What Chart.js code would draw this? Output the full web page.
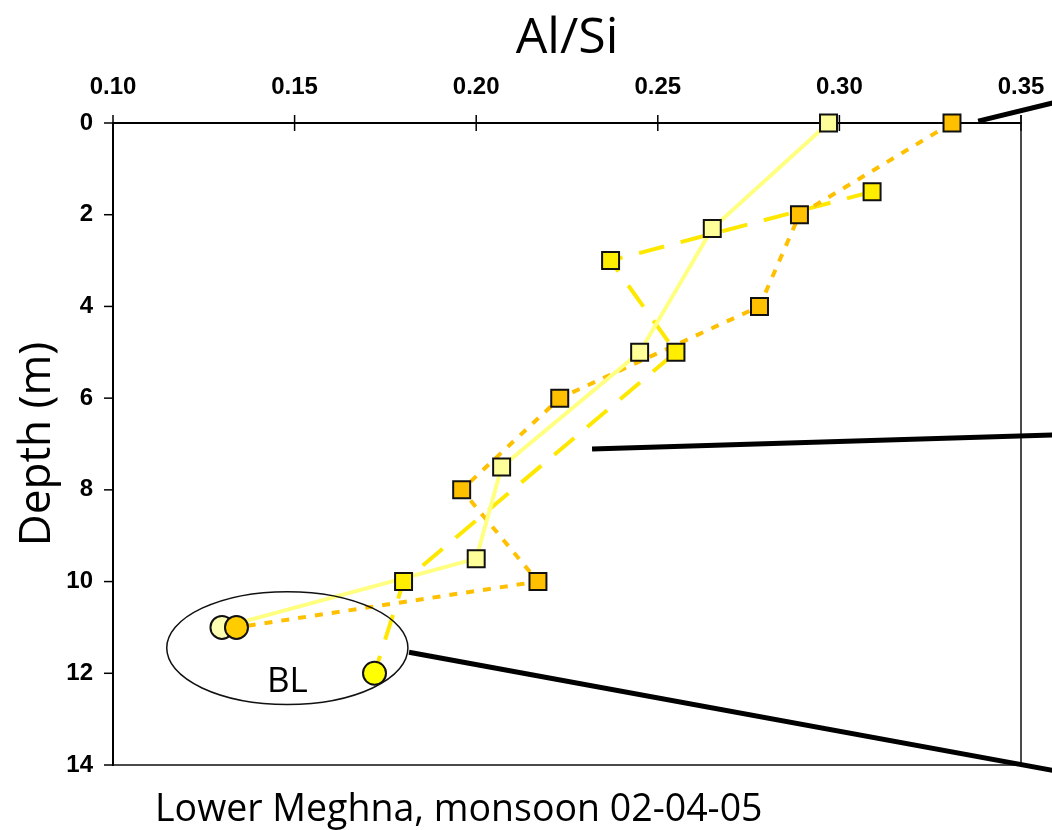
<!DOCTYPE html>
<html>
<head>
<meta charset="utf-8">
<script src="https://cdn.jsdelivr.net/npm/chart.js@4.4.1/dist/chart.umd.min.js"></script>
<style>
  html, body { margin: 0; padding: 0; background: #fff; }
  #wrap { width: 1052px; height: 830px; }
</style>
</head>
<body>
<div id="wrap"><canvas id="chart" width="1052" height="830"></canvas></div>
<script>
// Al/Si against depth, three profiles, last point of each = bottom layer (BL)
const lightAlSi = [0.297, 0.265, 0.245, 0.207, 0.200, 0.130];
const lightDepth = [0, 2.3, 5, 7.5, 9.5, 11];

const orangeAlSi = [0.331, 0.289, 0.278, 0.223, 0.196, 0.217, 0.134];
const orangeDepth = [0, 2, 4, 6, 8, 10, 11];

const yellowAlSi = [0.309, 0.237, 0.255, 0.180, 0.172];
const yellowDepth = [1.5, 3, 5, 10, 12];

const xTicks = [0.10, 0.15, 0.20, 0.25, 0.30, 0.35];
const yTicks = [0, 2, 4, 6, 8, 10, 12, 14];

const caption = "Lower Meghna, monsoon 02-04-05";

function toPoints(xs, ys) {
  return xs.map((x, i) => ({ x: x, y: ys[i] }));
}
// squares, except the bottom-layer sample which is a circle
function markerStyles(n) {
  return Array.from({ length: n }, (_, i) => (i === n - 1 ? "circle" : "rect"));
}
function markerFill(n, square, circle) {
  return Array.from({ length: n }, (_, i) => (i === n - 1 ? circle : square));
}

const series = [
  { xs: lightAlSi, ys: lightDepth, line: "#FFFF80", width: 4, dash: [], sq: "#FFFF99", ci: "#FFFFB3" },
  { xs: orangeAlSi, ys: orangeDepth, line: "#FFC000", width: 4, dash: [8, 9], sq: "#FFC000", ci: "#FFCC00" },
  { xs: yellowAlSi, ys: yellowDepth, line: "#FFE800", width: 4, dash: [26, 17], sq: "#FFEE00", ci: "#FFFF00" },
];

const datasets = [];
series.forEach((s) => {
  // connecting line, drawn under all markers
  datasets.push({
    data: toPoints(s.xs, s.ys),
    showLine: true,
    borderColor: s.line,
    borderWidth: s.width,
    borderDash: s.dash,
    pointRadius: 0,
    order: 2,
    clip: false,
  });
});
series.slice().reverse().forEach((s) => {
  datasets.push({
    data: toPoints(s.xs, s.ys),
    showLine: false,
    pointStyle: markerStyles(s.xs.length),
    pointRadius: s.xs.map((_, i) => (i === s.xs.length - 1 ? 11.5 : 12)),
    pointBackgroundColor: markerFill(s.xs.length, s.sq, s.ci),
    pointBorderColor: "#111",
    pointBorderWidth: 2,
    order: 1,
    clip: false,
  });
});

const decorations = {
  id: "decorations",
  afterDatasetsDraw: function (chart, args, opts) {
    const { ctx, chartArea, scales } = chart;
    const x = scales.x, y = scales.y;
    ctx.save();

    // tick marks: crossing on top axis, outward on left axis
    ctx.strokeStyle = "#000";
    ctx.lineWidth = 1.5;
    x.ticks.forEach((t) => {
      const px = x.getPixelForValue(t.value);
      ctx.beginPath();
      ctx.moveTo(px, chartArea.top - 8);
      ctx.lineTo(px, chartArea.top + 8);
      ctx.stroke();
    });
    y.ticks.forEach((t) => {
      const py = y.getPixelForValue(t.value);
      ctx.beginPath();
      ctx.moveTo(chartArea.left - 9, py);
      ctx.lineTo(chartArea.left, py);
      ctx.stroke();
    });

    // right and bottom frame
    ctx.lineWidth = 1.5;
    ctx.strokeStyle = "#111";
    ctx.beginPath();
    ctx.moveTo(chartArea.right, chartArea.top - 8);
    ctx.lineTo(chartArea.right, chartArea.bottom);
    ctx.lineTo(chartArea.left, chartArea.bottom);
    ctx.stroke();

    // bottom-layer ellipse with label
    const e = opts.ellipse;
    const cx = x.getPixelForValue(e.x), cy = y.getPixelForValue(e.y);
    const rx = Math.abs(x.getPixelForValue(e.x + e.rx) - cx);
    const ry = Math.abs(y.getPixelForValue(e.y + e.ry) - cy);
    ctx.lineWidth = 1.5;
    ctx.beginPath();
    ctx.ellipse(cx, cy, rx, ry, 0, 0, Math.PI * 2);
    ctx.stroke();

    ctx.fillStyle = "#000";
    ctx.font = "35px 'Open Sans', sans-serif";
    ctx.textAlign = "center";
    ctx.textBaseline = "alphabetic";
    ctx.fillText(e.label, cx, y.getPixelForValue(e.labelY));

    // leader lines toward the next panel
    ctx.lineWidth = 5;
    ctx.strokeStyle = "#000";
    opts.leaders.forEach((l) => {
      ctx.beginPath();
      ctx.moveTo(x.getPixelForValue(l[0][0]), y.getPixelForValue(l[0][1]));
      ctx.lineTo(x.getPixelForValue(l[1][0]), y.getPixelForValue(l[1][1]));
      ctx.stroke();
    });

    // caption
    ctx.font = "37.5px 'Open Sans', sans-serif";
    ctx.textAlign = "left";
    ctx.fillText(caption, 155, 821);
    ctx.restore();
  },
};

new Chart(document.getElementById("chart"), {
  type: "scatter",
  data: { datasets: datasets },
  options: {
    responsive: false,
    animation: false,
    layout: { padding: { left: 0, top: 0, right: 31, bottom: 65 } },
    plugins: {
      legend: { display: false },
      tooltip: { enabled: false },
      decorations: {
        ellipse: { x: 0.148, y: 11.45, rx: 0.0332, ry: 1.23, label: "BL", labelY: 12.41 },
        leaders: [
          [[0.3382, -0.04], [0.361, -0.48]],
          [[0.2319, 7.11], [0.361, 6.8]],
          [[0.1815, 11.54], [0.361, 14.15]],
        ],
      },
    },
    scales: {
      x: {
        type: "linear",
        position: "top",
        min: 0.1,
        max: 0.35,
        afterBuildTicks: (s) => { s.ticks = xTicks.map((v) => ({ value: v })); },
        afterFit: (s) => { s.height = 123; s.paddingLeft = 0; s.paddingRight = 0; },
        grid: { display: false, drawTicks: false },
        border: { display: true, color: "#000", width: 2 },
        ticks: {
          padding: 21,
          color: "#000",
          font: { family: "'Liberation Sans', Arial, sans-serif", size: 24, weight: "bold" },
          callback: (v) => v.toFixed(2),
        },
        title: {
          display: true,
          text: "Al/Si",
          color: "#000",
          font: { family: "'Open Sans', sans-serif", size: 50 },
          padding: { top: 9, bottom: 0 },
        },
      },
      y: {
        type: "linear",
        reverse: true,
        min: 0,
        max: 14,
        afterBuildTicks: (s) => { s.ticks = yTicks.map((v) => ({ value: v })); },
        afterFit: (s) => { s.width = 113; s.paddingTop = 0; s.paddingBottom = 0; },
        grid: { display: false, drawTicks: false },
        border: { display: true, color: "#000", width: 2 },
        ticks: {
          padding: 20,
          color: "#000",
          font: { family: "'Liberation Sans', Arial, sans-serif", size: 24, weight: "bold" },
        },
        title: {
          display: true,
          text: "Depth (m)",
          color: "#000",
          font: { family: "'Open Sans', sans-serif", size: 44 },
          padding: { top: 11, bottom: 0 },
        },
      },
    },
  },
  plugins: [decorations],
});
</script>
</body>
</html>
